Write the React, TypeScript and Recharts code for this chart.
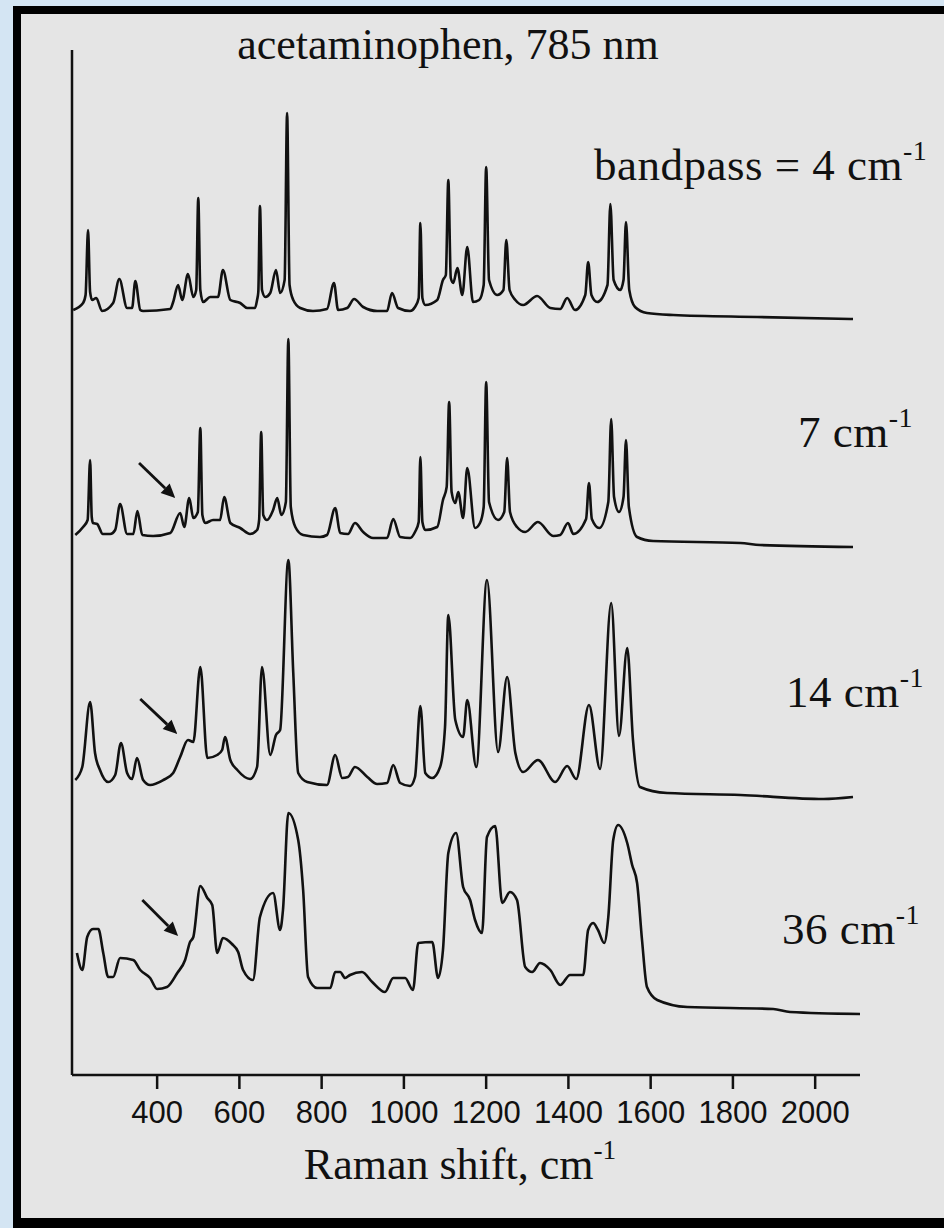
import React from "react";
import { LineChart, Line, XAxis, YAxis, ReferenceLine } from "recharts";

// Raman shift (cm-1) vs. intensity above each trace's own baseline (a.u.)
const bp4: [number, number][] = [
  [196, 10], [220, 17], [226, 25], [232, 90], [237, 28], [242, 20], [252, 22],
  [266, 9], [293, 17], [308, 41], [327, 12], [339, 12], [347, 39], [359, 10],
  [366, 9], [432, 11], [439, 18], [451, 35], [461, 20], [475, 46], [488, 23],
  [495, 30], [500, 122], [505, 30], [512, 18], [529, 23], [548, 23], [560, 50],
  [578, 20], [602, 17], [619, 12], [638, 12], [643, 20], [646, 28], [650, 114],
  [655, 30], [663, 23], [675, 27], [689, 50], [699, 27], [710, 40], [716, 207],
  [722, 35], [731, 20], [748, 12], [779, 9], [813, 11], [830, 37], [840, 10],
  [862, 12], [879, 21], [901, 13], [935, 9], [959, 9], [971, 27], [986, 12],
  [1015, 9], [1027, 13], [1036, 22], [1040, 97], [1045, 22], [1052, 15],
  [1081, 20], [1095, 40], [1102, 45], [1108, 140], [1114, 42], [1120, 37],
  [1130, 52], [1142, 25], [1154, 73], [1168, 18], [1183, 20], [1194, 35],
  [1200, 153], [1207, 40], [1227, 25], [1242, 30], [1249, 80], [1257, 30],
  [1271, 20], [1290, 15], [1324, 24], [1356, 12], [1380, 11], [1397, 22],
  [1416, 10], [1441, 25], [1448, 58], [1456, 25], [1470, 18], [1495, 35],
  [1502, 116], [1510, 40], [1526, 30], [1534, 40], [1540, 98], [1548, 30],
  [1562, 13], [1591, 7], [1655, 5], [1859, 3], [2092, 1],
];

const bp7: [number, number][] = [
  [201, 12], [220, 20], [231, 27], [237, 87], [241, 30], [244, 24], [254, 23],
  [268, 13], [286, 13], [298, 17], [310, 43], [327, 13], [342, 13], [352, 36],
  [364, 12], [390, 11], [432, 14], [456, 34], [466, 20], [478, 49], [488, 29],
  [499, 35], [505, 119], [510, 32], [517, 24], [536, 27], [553, 27], [563, 50],
  [578, 24], [602, 19], [626, 13], [643, 17], [648, 27], [653, 115], [658, 32],
  [667, 27], [682, 37], [692, 49], [702, 32], [713, 45], [719, 208], [725, 40],
  [736, 20], [755, 12], [796, 10], [813, 12], [833, 39], [845, 14], [864, 13],
  [881, 24], [901, 15], [925, 9], [959, 9], [974, 28], [991, 10], [1015, 9],
  [1027, 15], [1036, 25], [1040, 90], [1045, 25], [1052, 17], [1081, 20],
  [1095, 47], [1104, 60], [1110, 145], [1116, 55], [1125, 44], [1132, 55],
  [1144, 29], [1154, 79], [1173, 19], [1185, 24], [1194, 40], [1200, 165],
  [1207, 45], [1229, 27], [1244, 35], [1251, 89], [1258, 35], [1275, 20],
  [1295, 15], [1326, 25], [1363, 11], [1380, 12], [1399, 24], [1412, 13],
  [1443, 28], [1450, 64], [1457, 28], [1475, 19], [1497, 45], [1504, 128],
  [1511, 50], [1523, 35], [1534, 50], [1540, 107], [1547, 40], [1567, 10],
  [1606, 6], [1818, 4], [1866, 2], [2092, 0],
];

const bp14: [number, number][] = [
  [201, 20], [218, 33], [237, 98], [249, 47], [261, 30], [281, 18], [298, 25],
  [312, 57], [327, 27], [339, 21], [351, 42], [366, 20], [383, 15], [415, 20],
  [439, 27], [456, 43], [475, 60], [488, 58], [505, 133], [522, 42], [546, 45],
  [558, 50], [565, 63], [578, 40], [595, 30], [626, 21], [643, 33], [655, 133],
  [675, 45], [689, 65], [699, 70], [719, 240], [731, 127], [743, 27], [765, 18],
  [813, 15], [833, 45], [850, 22], [864, 23], [881, 33], [911, 23], [935, 16],
  [959, 17], [974, 35], [991, 17], [1015, 14], [1027, 23], [1040, 94], [1052, 27],
  [1069, 22], [1088, 33], [1100, 73], [1108, 185], [1125, 80], [1144, 63],
  [1154, 100], [1176, 33], [1202, 220], [1229, 48], [1251, 123], [1271, 47],
  [1290, 28], [1326, 40], [1368, 18], [1397, 34], [1419, 21], [1450, 95],
  [1477, 31], [1504, 197], [1523, 64], [1543, 152], [1557, 60], [1574, 13],
  [1640, 7], [1818, 5], [2020, 1], [2092, 3],
];

const bp36: [number, number][] = [
  [205, 61], [218, 44], [230, 77], [244, 85], [257, 85], [269, 61], [281, 37],
  [293, 37], [310, 56], [342, 54], [359, 44], [383, 36], [400, 25], [424, 27],
  [449, 41], [468, 54], [480, 72], [488, 77], [505, 128], [522, 116], [534, 109],
  [546, 61], [560, 76], [582, 70], [597, 62], [609, 44], [633, 34], [650, 97],
  [682, 121], [699, 84], [706, 104], [719, 201], [743, 174], [755, 124],
  [767, 37], [789, 26], [821, 26], [833, 42], [845, 42], [857, 36], [869, 39],
  [898, 42], [923, 32], [954, 22], [974, 36], [1003, 36], [1022, 24], [1035, 71],
  [1069, 72], [1083, 36], [1095, 64], [1108, 161], [1127, 181], [1144, 127],
  [1161, 114], [1173, 94], [1190, 81], [1202, 177], [1222, 188], [1239, 111],
  [1258, 122], [1275, 114], [1295, 47], [1312, 42], [1331, 51], [1356, 44],
  [1380, 29], [1404, 39], [1436, 39], [1448, 84], [1460, 91], [1472, 84],
  [1487, 71], [1497, 97], [1509, 174], [1521, 189], [1543, 171], [1555, 149],
  [1567, 131], [1579, 74], [1591, 27], [1616, 14], [1689, 7], [1898, 5],
  [1939, 2], [2109, 0],
];

// vertical stacking offsets, top trace first
const OFFSETS = [755, 528, 275, 61];
const SHIFT_TICKS = [400, 600, 800, 1000, 1200, 1400, 1600, 1800, 2000];

// arrows marking the shoulder near 450 cm-1: [fromX, fromY, toX, toY]
const ARROWS: [number, number, number, number][] = [
  [356, 612, 444, 577],
  [359, 376, 449, 341],
  [364, 175, 451, 139],
];

const traces = [bp4, bp7, bp14, bp36].map((pts, i) =>
  pts.map(([x, v]) => ({ x, y: v + OFFSETS[i] }))
);

const serif = "'Liberation Serif', 'Times New Roman', serif";
const narrow = "'Liberation Sans Narrow', 'Arial Narrow', 'Liberation Sans', sans-serif";

function ShiftTick({ x, y, payload }: any) {
  return (
    <text x={x} y={y + 30} textAnchor="middle" fontFamily={narrow} fontSize={31} fill="#111">
      {payload.value}
    </text>
  );
}

function Arrow(props: any) {
  const { x1, y1, x2, y2 } = props;
  const ang = Math.atan2(y2 - y1, x2 - x1);
  const len = 14;
  const w = 6.5;
  const bx = x2 - len * Math.cos(ang);
  const by = y2 - len * Math.sin(ang);
  const px = -Math.sin(ang) * w;
  const py = Math.cos(ang) * w;
  return (
    <g>
      <line x1={x1} y1={y1} x2={bx} y2={by} stroke="#111" strokeWidth={2.8} />
      <polygon points={`${x2},${y2} ${bx + px},${by + py} ${bx - px},${by - py}`} fill="#111" />
    </g>
  );
}

const Sup = () => (
  <span style={{ fontSize: "0.62em", position: "relative", top: "-0.72em" }}>-1</span>
);

function Label({ left, top, children }: { left: number; top: number; children: React.ReactNode }) {
  return (
    <div
      style={{
        position: "absolute",
        left,
        top,
        fontFamily: serif,
        fontSize: 45,
        letterSpacing: 0.5,
        lineHeight: 1,
        whiteSpace: "nowrap",
        color: "#111",
      }}
    >
      {children}
    </div>
  );
}

export default function App() {
  return (
    <div
      style={{
        position: "absolute",
        left: 0,
        top: 0,
        width: 944,
        height: 1228,
        overflow: "hidden",
        background: "#d4e5f3",
      }}
    >
      <div
        style={{
          position: "absolute",
          left: 13,
          top: 6,
          width: 960,
          height: 1222,
          boxSizing: "border-box",
          borderLeft: "8px solid #000",
          borderTop: "8px solid #000",
          borderBottom: "10px solid #000",
          background: "#e5e5e5",
        }}
      />
      <div style={{ position: "absolute", left: 0, top: 0 }}>
        <LineChart
          width={944}
          height={1228}
          margin={{ top: 50, right: 84, bottom: 93, left: 70 }}
        >
          <XAxis
            type="number"
            dataKey="x"
            domain={[193, 2109]}
            ticks={SHIFT_TICKS}
            height={60}
            tickSize={14}
            tickMargin={4}
            tick={<ShiftTick />}
            axisLine={{ stroke: "#111", strokeWidth: 2.5 }}
            tickLine={{ stroke: "#111", strokeWidth: 2.5 }}
            allowDataOverflow
          />
          <YAxis
            type="number"
            dataKey="y"
            domain={[0, 1025]}
            width={2}
            tick={false}
            tickLine={false}
            axisLine={{ stroke: "#111", strokeWidth: 2.5 }}
            allowDataOverflow
          />
          {traces.map((d, i) => (
            <Line
              key={i}
              data={d}
              dataKey="y"
              type="monotoneX"
              stroke="#111"
              strokeWidth={2.6}
              dot={false}
              activeDot={false}
              isAnimationActive={false}
            />
          ))}
          {ARROWS.map(([fx, fy, tx, ty], i) => (
            <ReferenceLine
              key={`a${i}`}
              segment={[
                { x: fx, y: fy },
                { x: tx, y: ty },
              ]}
              shape={<Arrow />}
              ifOverflow="visible"
            />
          ))}
        </LineChart>
      </div>
      <div
        style={{
          position: "absolute",
          left: 448,
          top: 23,
          transform: "translateX(-50%)",
          fontFamily: serif,
          fontSize: 44,
          lineHeight: 1,
          whiteSpace: "nowrap",
          color: "#111",
        }}
      >
        acetaminophen, 785 nm
      </div>
      <Label left={594} top={143}>
        bandpass = 4 cm<Sup />
      </Label>
      <Label left={798} top={410}>
        7 cm<Sup />
      </Label>
      <Label left={786} top={670}>
        14 cm<Sup />
      </Label>
      <Label left={782} top={907}>
        36 cm<Sup />
      </Label>
      <div
        style={{
          position: "absolute",
          left: 460,
          top: 1143,
          transform: "translateX(-50%)",
          fontFamily: serif,
          fontSize: 44,
          lineHeight: 1,
          whiteSpace: "nowrap",
          color: "#111",
        }}
      >
        Raman shift, cm<Sup />
      </div>
    </div>
  );
}
